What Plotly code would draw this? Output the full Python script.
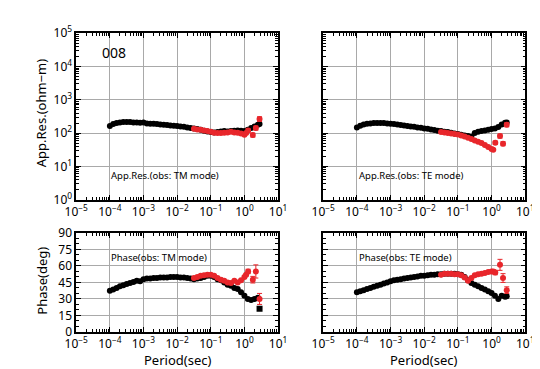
import plotly.graph_objects as go

# ---------------- data ----------------
# periods (log10 of seconds)
period_black_log10 = [-4.0, -3.9, -3.8, -3.7, -3.6, -3.5, -3.4, -3.3, -3.2, -3.1,
                      -3.0, -2.9, -2.8, -2.7, -2.6, -2.5, -2.4, -2.3, -2.2, -2.1,
                      -2.0, -1.9, -1.8, -1.7, -1.6, -1.5, -1.4, -1.3, -1.2, -1.1,
                      -1.0, -0.9, -0.8, -0.7, -0.6, -0.5, -0.4, -0.3, -0.2, -0.1,
                      0.0, 0.1, 0.2, 0.3, 0.4, 0.45]
period_red_log10 = [-1.5, -1.4, -1.3, -1.2, -1.1, -1.0, -0.9, -0.8, -0.7, -0.6,
                    -0.5, -0.4, -0.3, -0.2, -0.1, 0.0, 0.05, 0.11, 0.25, 0.34, 0.45]

# apparent resistivity, log10(ohm-m)
tm_rho_black_log10 = [2.21, 2.27, 2.30, 2.32, 2.33, 2.33, 2.33, 2.32, 2.32, 2.31,
                      2.32, 2.29, 2.28, 2.28, 2.27, 2.26, 2.25, 2.24, 2.23, 2.22,
                      2.21, 2.20, 2.19, 2.17, 2.15, 2.14, 2.12, 2.10, 2.07, 2.05,
                      2.03, 2.02, 2.03, 2.05, 2.06, 2.05, 2.06, 2.07, 2.08, 2.07,
                      2.06, 2.10, 2.15, 2.20, 2.25, 2.27]
te_rho_black_log10 = [2.17, 2.22, 2.26, 2.28, 2.29, 2.30, 2.30, 2.30, 2.30, 2.29,
                      2.28, 2.27, 2.26, 2.24, 2.23, 2.21, 2.20, 2.19, 2.17, 2.16,
                      2.14, 2.13, 2.11, 2.09, 2.07, 2.06, 2.04, 2.03, 2.01, 1.99,
                      1.97, 1.95, 1.93, 1.91, 1.89, 2.00, 2.04, 2.06, 2.08, 2.10,
                      2.12, 2.14, 2.18, 2.26, 2.31, 2.32]
tm_rho_red_log10 = [2.13, 2.11, 2.10, 2.08, 2.06, 2.04, 2.01, 2.00, 2.00, 2.01,
                    2.02, 2.04, 2.02, 2.01, 1.99, 1.95, 2.00, 2.08, 1.94, 2.15, 2.42]
tm_rho_red_err_log10 = [0.01, 0.01, 0.01, 0.01, 0.01, 0.01, 0.01, 0.01, 0.01, 0.01,
                        0.01, 0.01, 0.01, 0.01, 0.01, 0.02, 0.03, 0.05, 0.06, 0.06, 0.07]
te_rho_red_log10 = [2.03, 2.02, 2.00, 1.99, 1.97, 1.96, 1.93, 1.90, 1.86, 1.82,
                    1.78, 1.74, 1.70, 1.64, 1.58, 1.52, 1.50, 1.71, 1.91, 1.68, 2.25]
te_rho_red_err_log10 = [0.01, 0.01, 0.01, 0.01, 0.01, 0.01, 0.01, 0.01, 0.01, 0.01,
                        0.01, 0.01, 0.01, 0.01, 0.01, 0.02, 0.02, 0.05, 0.06, 0.06, 0.06]

# phase, degrees
tm_phase_black = [37.5, 38.5, 40, 41.5, 42.5, 43.5, 44.5, 45.5, 46.5, 46,
                  48, 48.5, 48.5, 49, 49, 49.5, 49.5, 49.5, 50, 50,
                  50, 49.5, 49.5, 49, 48.5, 48, 48.5, 49, 50, 51,
                  51, 50, 48, 47, 45, 43, 42, 40, 39, 36,
                  33, 30, 29, 30, 31, 21]
te_phase_black = [36, 37, 38, 39, 40, 41, 42, 43, 44, 45,
                  46, 47, 47.5, 48, 48.5, 49, 49.5, 50, 50.5, 51,
                  51, 51.5, 52, 52, 52.5, 52.5, 53, 53, 53, 53,
                  52.5, 52, 50, 47, 44.5, 43, 41.5, 40, 38.5, 37,
                  35.5, 33, 30, 33, 32, 32.5]
tm_phase_red = [49, 50, 51, 51.5, 52, 52, 51, 49, 47.5, 46.5,
                45, 44.5, 46.5, 45, 47, 50, 52, 55, 47.5, 55, 30]
tm_phase_red_err = [0.5, 0.5, 0.5, 0.5, 0.5, 0.5, 0.5, 0.5, 0.5, 0.5,
                    0.5, 0.5, 0.5, 0.5, 0.5, 0.8, 1.0, 2.0, 3.0, 6.0, 5.0]
te_phase_red = [52, 53, 53, 53, 52.5, 52.5, 51.5, 49.5, 46.5, 49,
                51.5, 52.5, 53, 53.5, 54.5, 55, 55, 54, 61, 49, 38]
te_phase_red_err = [0.5, 0.5, 0.5, 0.5, 0.5, 0.5, 0.5, 0.5, 0.5, 0.5,
                    0.5, 0.5, 0.5, 0.5, 0.8, 1.0, 1.5, 2.0, 5.0, 4.0, 3.0]

x_tick_exponents = [-5, -4, -3, -2, -1, 0, 1]
rho_tick_exponents = [0, 1, 2, 3, 4, 5]
phase_ticks = [0, 15, 30, 45, 60, 75, 90]

station_label = "008"
panel_labels = ["App.Res.(obs: TM mode)", "App.Res.(obs: TE mode)",
                "Phase(obs: TM mode)", "Phase(obs: TE mode)"]

# ---------------- helpers ----------------
def lin(v):
    return [10 ** a for a in v]

def log_err(vals, errs):
    plus = [10 ** (v + e) - 10 ** v for v, e in zip(vals, errs)]
    minus = [10 ** v - 10 ** (v - e) for v, e in zip(vals, errs)]
    return plus, minus

BLACK = "#000000"
RED = "#e8262b"
FONT = "Noto Sans"
MS = 6

pb = lin(period_black_log10)
pr = lin(period_red_log10)

fig = go.Figure()

def add_panel(xa, ya, yb, yr, err_plus, err_minus, black_symbols=None):
    fig.add_trace(go.Scatter(x=pb, y=yb, mode="markers", xaxis=xa, yaxis=ya,
                             marker=dict(color=BLACK, size=MS,
                                         symbol=black_symbols if black_symbols else "circle"),
                             showlegend=False, hoverinfo="skip"))
    fig.add_trace(go.Scatter(x=pr, y=yr, mode="markers", xaxis=xa, yaxis=ya,
                             marker=dict(color=RED, size=MS),
                             error_y=dict(type="data", symmetric=False, array=err_plus,
                                          arrayminus=err_minus, color=RED,
                                          thickness=1, width=2.5),
                             showlegend=False, hoverinfo="skip"))

p, m = log_err(tm_rho_red_log10, tm_rho_red_err_log10)
add_panel("x", "y", lin(tm_rho_black_log10), lin(tm_rho_red_log10), p, m)
p, m = log_err(te_rho_red_log10, te_rho_red_err_log10)
add_panel("x2", "y2", lin(te_rho_black_log10), lin(te_rho_red_log10), p, m)
tm_syms = ["circle"] * (len(tm_phase_black) - 1) + ["square"]
add_panel("x3", "y3", tm_phase_black, tm_phase_red, tm_phase_red_err, tm_phase_red_err, tm_syms)
add_panel("x4", "y4", te_phase_black, te_phase_red, te_phase_red_err, te_phase_red_err)

# ---------------- axes ----------------
W, H = 540, 369
def px_x(a):
    return a / W
def px_y(a):
    return 1 - a / H

xdom_left = [px_x(58.5), px_x(268.5)]
xdom_right = [px_x(315.5), px_x(525.7)]
ydom_top = [px_y(191), px_y(16)]
ydom_bot = [px_y(330), px_y(226)]

xt_vals = [10 ** e for e in x_tick_exponents]
xt_text = ["10<sup>%s</sup>" % (("−%d" % -e) if e < 0 else str(e)) for e in x_tick_exponents]
x_minor = [k * 10 ** e for e in range(-5, 1) for k in range(2, 10)]
rt_vals = [10 ** e for e in rho_tick_exponents]
rt_text = ["10<sup>%d</sup>" % e for e in rho_tick_exponents]
r_minor = [k * 10 ** e for e in range(0, 5) for k in range(2, 10)]

common = dict(ticks="inside", ticklen=5, tickwidth=1, tickcolor="black",
              showline=True, linecolor="black", linewidth=1.5, mirror="allticks",
              showgrid=True, gridcolor="#a9a9a9", gridwidth=1, zeroline=False,
              tickfont=dict(family=FONT, size=12, color="black"))

def xaxis(domain, anchor):
    d = dict(type="log", range=[-5, 1], domain=domain, anchor=anchor,
             tickmode="array", tickvals=xt_vals, ticktext=xt_text,
             minor=dict(tickmode="array", tickvals=x_minor, ticks="inside",
                        ticklen=3, tickcolor="black", showgrid=False))
    d.update(common)
    return d

def rho_axis(domain, anchor, labels):
    d = dict(type="log", range=[0, 5], domain=domain, anchor=anchor,
             tickmode="array", tickvals=rt_vals, ticktext=rt_text,
             showticklabels=labels,
             minor=dict(tickmode="array", tickvals=r_minor, ticks="inside",
                        ticklen=3, tickcolor="black", showgrid=False))
    d.update(common)
    return d

def phase_axis(domain, anchor, labels):
    d = dict(range=[0, 90], domain=domain, anchor=anchor,
             tickmode="array", tickvals=phase_ticks, showticklabels=labels,
             minor=dict(dtick=5, ticks="inside", ticklen=3, tickcolor="black", showgrid=False))
    d.update(common)
    return d

fig.update_layout(
    width=W, height=H,
    margin=dict(l=0, r=0, t=0, b=0),
    paper_bgcolor="white", plot_bgcolor="white",
    font=dict(family=FONT, color="black"),
    xaxis=xaxis(xdom_left, "y"), yaxis=rho_axis(ydom_top, "x", True),
    xaxis2=xaxis(xdom_right, "y2"), yaxis2=rho_axis(ydom_top, "x2", False),
    xaxis3=xaxis(xdom_left, "y3"), yaxis3=phase_axis(ydom_bot, "x3", True),
    xaxis4=xaxis(xdom_right, "y4"), yaxis4=phase_axis(ydom_bot, "x4", False),
)

ann = []
ann.append(dict(text=station_label, x=px_x(83), y=px_y(36), xanchor="left", yanchor="middle",
                font=dict(size=14)))
ann.append(dict(text=panel_labels[0], x=px_x(93), y=px_y(166), xanchor="left", yanchor="middle",
                font=dict(size=9.5)))
ann.append(dict(text=panel_labels[1], x=px_x(351), y=px_y(166), xanchor="left", yanchor="middle",
                font=dict(size=9.5)))
ann.append(dict(text=panel_labels[2], x=px_x(93), y=px_y(252), xanchor="left", yanchor="middle",
                font=dict(size=9.5)))
ann.append(dict(text=panel_labels[3], x=px_x(351), y=px_y(252), xanchor="left", yanchor="middle",
                font=dict(size=9.5)))
ann.append(dict(text="App.Res.(ohm−m)", x=px_x(22), y=px_y(100), textangle=-90,
                xanchor="center", yanchor="middle", font=dict(size=13)))
ann.append(dict(text="Phase(deg)", x=px_x(22), y=px_y(276), textangle=-90,
                xanchor="center", yanchor="middle", font=dict(size=13)))
ann.append(dict(text="Period(sec)", x=px_x(164), y=px_y(360), xanchor="center", yanchor="middle",
                font=dict(size=13)))
ann.append(dict(text="Period(sec)", x=px_x(420), y=px_y(360), xanchor="center", yanchor="middle",
                font=dict(size=13)))
for a in ann:
    a.update(xref="paper", yref="paper", showarrow=False)
fig.update_layout(annotations=ann)

fig.write_html("out.html")
